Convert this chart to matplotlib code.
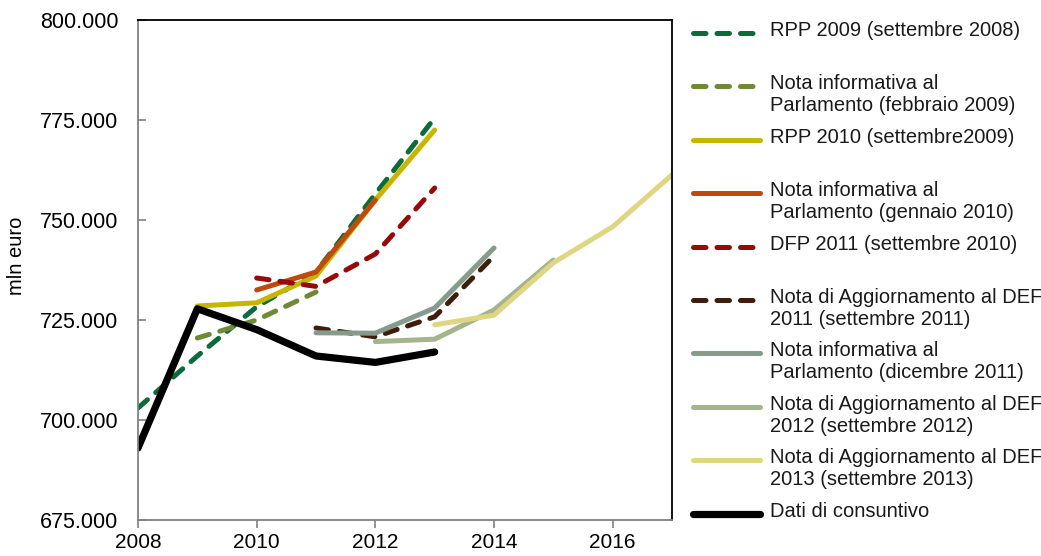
import numpy as np
import matplotlib
matplotlib.use("Agg")
from matplotlib import pyplot as plt
from matplotlib.lines import Line2D

plt.rcParams['font.family'] = ['Liberation Sans', 'DejaVu Sans']

# Previsioni e consuntivo (migliaia di mln euro -> mln euro)
anni_rpp2009 = [2008, 2009, 2010, 2011, 2012, 2013]
rpp2009 = [703.0, 716.0, 728.3, 737.0, 756.5, 775.5]

anni_nota_feb09 = [2009, 2010, 2011]
nota_feb09 = [720.5, 725.0, 732.0]

anni_rpp2010 = [2009, 2010, 2011, 2012, 2013]
rpp2010 = [728.5, 729.3, 736.0, 755.0, 772.5]

anni_nota_gen10 = [2010, 2011, 2012]
nota_gen10 = [732.5, 737.0, 755.0]

anni_dfp2011 = [2010, 2011, 2012, 2013]
dfp2011 = [735.5, 733.4, 741.5, 758.0]

anni_def2011 = [2011, 2012, 2013, 2014]
def2011 = [723.0, 720.8, 725.8, 741.0]

anni_nota_dic11 = [2011, 2012, 2013, 2014]
nota_dic11 = [721.8, 721.7, 728.0, 743.0]

anni_def2012 = [2012, 2013, 2014, 2015]
def2012 = [719.6, 720.2, 727.5, 740.0]

anni_def2013 = [2013, 2014, 2015, 2016, 2017]
def2013 = [723.8, 726.2, 739.3, 748.3, 761.3]

anni_consuntivo = [2008, 2009, 2010, 2011, 2012, 2013]
consuntivo = [693.0, 727.8, 722.6, 716.0, 714.4, 717.0]

series = [
    (anni_rpp2009, rpp2009, 'RPP 2009 (settembre 2008)', '#0b6b3a', True, 3.6),
    (anni_nota_feb09, nota_feb09, 'Nota informativa al\nParlamento (febbraio 2009)', '#6f8a35', True, 3.6),
    (anni_rpp2010, rpp2010, 'RPP 2010 (settembre2009)', '#c6b600', False, 3.6),
    (anni_nota_gen10, nota_gen10, 'Nota informativa al\nParlamento (gennaio 2010)', '#bf4a0c', False, 3.6),
    (anni_dfp2011, dfp2011, 'DFP 2011 (settembre 2010)', '#960a0a', True, 3.6),
    (anni_def2011, def2011, 'Nota di Aggiornamento al DEF\n2011 (settembre 2011)', '#3f1d0b', True, 3.6),
    (anni_nota_dic11, nota_dic11, 'Nota informativa al\nParlamento (dicembre 2011)', '#869b8c', False, 3.6),
    (anni_def2012, def2012, 'Nota di Aggiornamento al DEF\n2012 (settembre 2012)', '#a4b58d', False, 3.6),
    (anni_def2013, def2013, 'Nota di Aggiornamento al DEF\n2013 (settembre 2013)', '#e0d682', False, 3.6),
    (anni_consuntivo, consuntivo, 'Dati di consuntivo', '#000000', False, 5.2),
]

fig = plt.figure(figsize=(10.41, 5.56), dpi=100)
ax = fig.add_axes([138 / 1041, 1 - 520 / 556, (672 - 138) / 1041, 500 / 556])

def style(dashed, lw):
    kw = dict(lw=lw, solid_capstyle='round', solid_joinstyle='round')
    if dashed:
        kw.update(linestyle=(0, (2.5, 2.2)), dash_capstyle='round', dash_joinstyle='round')
    return kw

for x, y, lab, col, dashed, lw in series:
    ax.plot(x, np.array(y) * 1000, color=col, **style(dashed, lw))

ax.set_xlim(2008, 2017)
ax.set_ylim(675000, 800000)
ax.set_xticks([2008, 2010, 2012, 2014, 2016])
ax.set_yticks(np.arange(675000, 800001, 25000))
ax.yaxis.set_major_formatter(plt.FuncFormatter(lambda v, p: f'{v:,.0f}'.replace(',', '.')))
ax.tick_params(axis='y', direction='in', length=6, width=1.2, color='#808080', labelsize=15.5, pad=14)
ax.tick_params(axis='x', direction='out', length=6, width=1.2, color='#808080', labelsize=15, pad=3)
for s in ['left', 'bottom']:
    ax.spines[s].set_color('#808080')
    ax.spines[s].set_linewidth(1.3)
for s in ['top', 'right']:
    ax.spines[s].set_color('#000000')
    ax.spines[s].set_linewidth(1.3)
ax.set_ylabel('mln euro', fontsize=14.5)
ax.yaxis.set_label_coords(-112 / 534, 0.528)

# legenda in stile Excel: linea allineata alla prima riga dell'etichetta
y0 = 1 - 33 / 556
step = 53.4 / 556
for i, (x, y, lab, col, dashed, lw) in enumerate(series):
    yy = y0 - i * step
    fig.add_artist(Line2D([693 / 1041, 760 / 1041], [yy, yy], color=col,
                          transform=fig.transFigure, **style(dashed, lw)))
    fig.text(770 / 1041, yy + 12 / 556, lab, fontsize=14.5, va='top', ha='left',
             color='#1a1a1a', linespacing=1.2)

fig.savefig('out.png', dpi=100)
